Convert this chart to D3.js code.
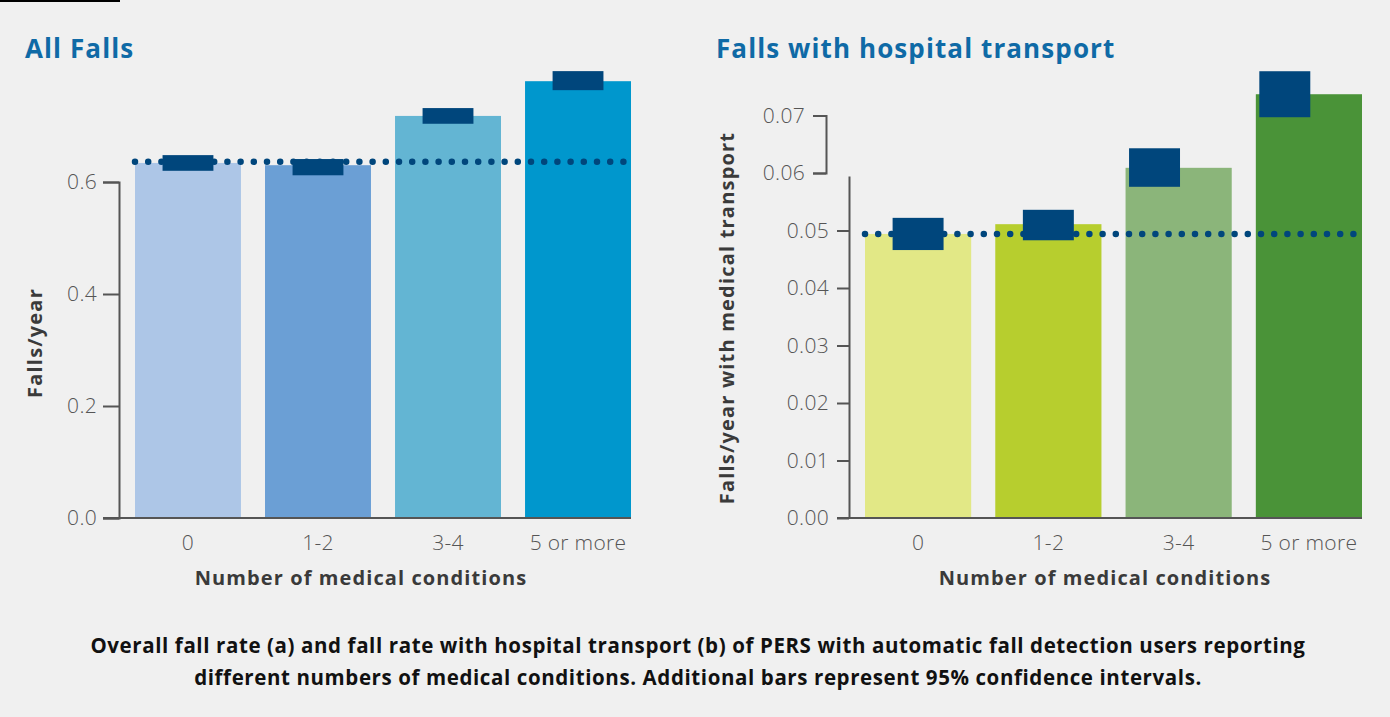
<!DOCTYPE html>
<html>
<head>
<meta charset="utf-8">
<script src="https://cdn.jsdelivr.net/npm/d3@7"></script>
<style>
  body { margin: 0; background: #f0f0f0; }
  svg { display: block; }
  .tick text { font-family: "Open Sans", sans-serif; font-weight: 300; fill: #555; letter-spacing: 0.3px; }
  .tick line, .domain { stroke: #555; stroke-width: 2; }
</style>
</head>
<body>
<div id="chart"></div>
<script>
// Categories and values
const categories = ["0", "1-2", "3-4", "5 or more"];

const allFalls = [0.634, 0.630, 0.718, 0.780];
const allFallsLow = [0.620, 0.612, 0.704, 0.764];
const allFallsHigh = [0.648, 0.641, 0.732, 0.798];
const allFallsRef = 0.636;
const allFallsTicks = [0, 0.2, 0.4, 0.6];

const transport = [0.0494, 0.0511, 0.0609, 0.0737];
const transportLow = [0.0466, 0.0483, 0.0576, 0.0697];
const transportHigh = [0.0522, 0.0536, 0.0643, 0.0777];
const transportRef = 0.0494;
const transportTicksLow = [0, 0.01, 0.02, 0.03, 0.04, 0.05];
const transportTicksHigh = [0.06, 0.07];

const leftColors = ["#adc6e7", "#6b9fd5", "#63b5d3", "#0097cd"];
const rightColors = ["#e2e886", "#b7ce2e", "#8bb57a", "#4a9338"];
// the two tallest CI boxes on the right sit near the bar's left edge
const rightCiAlign = ["center", "center", "left", "left"];

(function() {
  const W = 1390, H = 717;
  const ciColor = "#00467c";
  const font = "'Open Sans', sans-serif";

  const svg = d3.select("#chart").append("svg")
    .attr("width", W).attr("height", H);

  svg.append("rect").attr("width", W).attr("height", H).attr("fill", "#f0f0f0");
  svg.append("rect").attr("x", 0).attr("y", 0).attr("width", 120).attr("height", 2).attr("fill", "#000");

  function drawPanel(opt) {
    const g = svg.append("g");
    const x = d3.scaleBand().domain(categories).range(opt.xRange)
      .paddingInner(0.185).paddingOuter(0);
    const y = opt.y;

    // title
    g.append("text")
      .attr("x", opt.titleX).attr("y", 58)
      .attr("font-family", font)
      .attr("font-weight", 700).attr("font-size", 26)
      .attr("letter-spacing", 1.1)
      .attr("fill", "#0f6aa6")
      .text(opt.title);

    // bars
    g.selectAll("rect.bar").data(opt.values).join("rect")
      .attr("class", "bar")
      .attr("x", (d, i) => x(categories[i]))
      .attr("y", d => y(d))
      .attr("width", x.bandwidth())
      .attr("height", d => y(0) - y(d))
      .attr("fill", (d, i) => opt.colors[i]);

    // reference dotted line
    g.append("line")
      .attr("x1", opt.xRange[0]).attr("x2", opt.xRange[1])
      .attr("y1", y(opt.ref)).attr("y2", y(opt.ref))
      .attr("stroke", ciColor).attr("stroke-width", 6.5)
      .attr("stroke-linecap", "round")
      .attr("stroke-dasharray", "0 13.2");

    // confidence interval boxes
    const bw = x.bandwidth() * 0.48;
    g.selectAll("rect.ci").data(opt.low).join("rect")
      .attr("class", "ci")
      .attr("x", (d, i) => {
        const x0 = x(categories[i]);
        return opt.ciAlign && opt.ciAlign[i] === "left" ? x0 + 3.5 : x0 + (x.bandwidth() - bw) / 2;
      })
      .attr("y", (d, i) => y(opt.high[i]))
      .attr("width", bw)
      .attr("height", (d, i) => y(d) - y(opt.high[i]))
      .attr("fill", ciColor);

    // x axis line
    g.append("line")
      .attr("x1", opt.xAxisStart).attr("x2", opt.xRange[1])
      .attr("y1", y(0)).attr("y2", y(0))
      .attr("stroke", "#555").attr("stroke-width", 2);

    // x tick labels
    g.selectAll("text.xl").data(categories).join("text")
      .attr("class", "xl")
      .attr("x", d => x(d) + x.bandwidth() / 2)
      .attr("y", 550)
      .attr("text-anchor", "middle")
      .attr("font-family", font)
      .attr("font-weight", 300).attr("font-size", 21)
      .attr("letter-spacing", 0.3)
      .attr("fill", "#555")
      .text(d => d);

    g.append("text")
      .attr("x", opt.xTitleX)
      .attr("y", 585)
      .attr("text-anchor", "middle")
      .attr("font-family", font)
      .attr("font-weight", 700).attr("font-size", 20)
      .attr("letter-spacing", 1.1)
      .attr("fill", "#3a3a3a")
      .text("Number of medical conditions");

    // y axis title
    g.append("text")
      .attr("transform", `translate(${opt.yTitleX},${opt.yTitleY}) rotate(-90)`)
      .attr("text-anchor", "middle")
      .attr("font-family", font)
      .attr("font-weight", 700).attr("font-size", 20)
      .attr("letter-spacing", 1.2)
      .attr("fill", "#3a3a3a")
      .text(opt.yTitle);

    return g;
  }

  // ---- Left panel: All Falls
  const yL = d3.scaleLinear().domain([0, 0.6]).range([518, 182]);
  const gL = drawPanel({
    title: "All Falls", titleX: 25,
    xRange: [135, 631], xAxisStart: 103, xTitleX: 361,
    y: yL, values: allFalls, low: allFallsLow, high: allFallsHigh,
    ref: allFallsRef, colors: leftColors,
    yTitle: "Falls/year", yTitleX: 42, yTitleY: 343
  });
  gL.append("g")
    .attr("transform", "translate(119,0)")
    .call(d3.axisLeft(yL).tickValues(allFallsTicks).tickFormat(d3.format(".1f"))
      .tickSize(16).tickSizeOuter(16).tickPadding(6))
    .call(a => a.selectAll(".tick text").attr("font-size", 21));

  // ---- Right panel: Falls with hospital transport
  const yR = d3.scaleLinear().domain([0, 0.07]).range([518, 518 - 0.07 * 5750]);
  const gR = drawPanel({
    title: "Falls with hospital transport", titleX: 716,
    xRange: [865, 1362], xAxisStart: 837, xTitleX: 1105,
    y: yR, values: transport, low: transportLow, high: transportHigh,
    ref: transportRef, colors: rightColors, ciAlign: rightCiAlign,
    yTitle: "Falls/year with medical transport", yTitleX: 734, yTitleY: 318
  });

  // broken axis: lower segment
  const yRLow = yR.copy().domain([0, 0.0595]).range([yR(0), yR(0.0595)]);
  gR.append("g")
    .attr("transform", "translate(849,0)")
    .call(d3.axisLeft(yRLow).tickValues(transportTicksLow).tickFormat(d3.format(".2f"))
      .tickSize(12).tickSizeOuter(0).tickPadding(8))
    .call(a => a.selectAll(".tick text").attr("font-size", 21));

  // broken axis: upper segment, shifted left
  const yRHigh = yR.copy().domain([0.06, 0.07]).range([yR(0.06), yR(0.07)]);
  gR.append("g")
    .attr("transform", "translate(826,0)")
    .call(d3.axisLeft(yRHigh).tickValues(transportTicksHigh).tickFormat(d3.format(".2f"))
      .tickSize(13).tickSizeOuter(13).tickPadding(8))
    .call(a => a.selectAll(".tick text").attr("font-size", 21));

  // caption
  const caption = [
    "Overall fall rate (a) and fall rate with hospital transport (b) of PERS with automatic fall detection users reporting",
    "different numbers of medical conditions. Additional bars represent 95% confidence intervals."
  ];
  svg.selectAll("text.cap").data(caption).join("text")
    .attr("class", "cap")
    .attr("x", 698)
    .attr("y", (d, i) => 653 + i * 32)
    .attr("text-anchor", "middle")
    .attr("font-family", font)
    .attr("font-weight", 700).attr("font-size", 20.5)
    .attr("letter-spacing", 0.6)
    .attr("fill", "#111")
    .text(d => d);
})();
</script>
</body>
</html>
